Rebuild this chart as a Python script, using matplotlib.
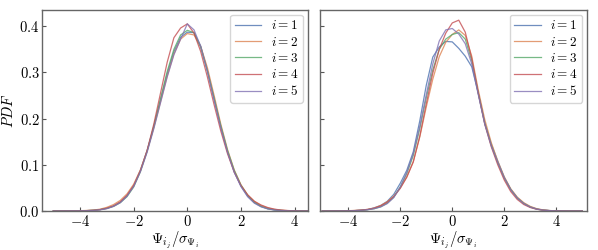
import numpy as np
import matplotlib
matplotlib.use("Agg")
import matplotlib.pyplot as plt
from matplotlib.ticker import FuncFormatter

# x grid shared by all curves (-5 ... 5, step 0.25)
x_grid = np.linspace(-5, 5, 41)

labels = ["$i=1$", "$i=2$", "$i=3$", "$i=4$", "$i=5$"]
colors = ["#4C72B0", "#DD8452", "#55A868", "#C44E52", "#8172B3"]

# left panel pdf values
left_1 = [0, 0, 0.0001, 0.0002, 0.0004, 0.0008, 0.0016, 0.003,
          0.006, 0.011, 0.019, 0.033, 0.055, 0.088, 0.131, 0.183, 0.240, 0.297, 0.345, 0.376,
          0.387, 0.386, 0.357, 0.304, 0.243, 0.182, 0.128, 0.085, 0.054, 0.032, 0.018, 0.010, 0.005,
          0.0025, 0.0012, 0.0005, 0.0002, 0.0001, 0, 0, 0]
left_2 = [0, 0.0001, 0.0002, 0.0004, 0.0007, 0.0012, 0.002, 0.004,
          0.008, 0.014, 0.023, 0.037, 0.058, 0.089, 0.130, 0.180, 0.236, 0.292, 0.340, 0.372,
          0.384, 0.381, 0.356, 0.310, 0.250, 0.188, 0.133, 0.089, 0.057, 0.035, 0.021, 0.012, 0.0065,
          0.0035, 0.0018, 0.0008, 0.0003, 0.0001, 0, 0, 0]
left_3 = [0, 0, 0.0001, 0.0002, 0.0004, 0.0008, 0.0015, 0.003,
          0.0055, 0.010, 0.018, 0.031, 0.052, 0.085, 0.129, 0.183, 0.243, 0.302, 0.350, 0.381,
          0.391, 0.386, 0.354, 0.303, 0.244, 0.184, 0.131, 0.088, 0.056, 0.034, 0.019, 0.010, 0.005,
          0.0025, 0.0012, 0.0005, 0.0002, 0.0001, 0, 0, 0]
left_4 = [0, 0, 0.0001, 0.0002, 0.0004, 0.0008, 0.0015, 0.003,
          0.006, 0.011, 0.020, 0.034, 0.055, 0.087, 0.131, 0.188, 0.255, 0.322, 0.375, 0.396,
          0.405, 0.385, 0.345, 0.290, 0.230, 0.173, 0.124, 0.084, 0.055, 0.035, 0.021, 0.013, 0.0075,
          0.004, 0.002, 0.001, 0.0004, 0.0002, 0.0001, 0, 0]
left_5 = [0, 0, 0.0001, 0.0002, 0.0003, 0.0006, 0.0012, 0.0025,
          0.005, 0.010, 0.018, 0.032, 0.053, 0.085, 0.127, 0.178, 0.234, 0.290, 0.338, 0.372,
          0.405, 0.392, 0.356, 0.302, 0.240, 0.180, 0.127, 0.084, 0.053, 0.031, 0.017, 0.009, 0.0045,
          0.002, 0.001, 0.0004, 0.0001, 0, 0, 0, 0]

# right panel pdf values
right_1 = [0, 0, 0.0001, 0.0002, 0.0004, 0.0008, 0.0015, 0.003,
           0.007, 0.012, 0.021, 0.036, 0.060, 0.088, 0.128, 0.195, 0.272, 0.333, 0.355, 0.367,
           0.366, 0.352, 0.335, 0.312, 0.255, 0.190, 0.145, 0.108, 0.073, 0.047, 0.029, 0.017, 0.009,
           0.0045, 0.002, 0.0009, 0.0004, 0.0001, 0, 0, 0]
right_2 = [0, 0.0001, 0.0002, 0.0004, 0.0007, 0.0012, 0.002, 0.0035,
           0.0065, 0.012, 0.020, 0.032, 0.050, 0.074, 0.107, 0.160, 0.225, 0.285, 0.334, 0.365,
           0.382, 0.392, 0.380, 0.335, 0.262, 0.198, 0.148, 0.108, 0.074, 0.048, 0.030, 0.018, 0.010,
           0.005, 0.0024, 0.001, 0.0004, 0.0001, 0, 0, 0]
right_3 = [0, 0, 0.0001, 0.0002, 0.0004, 0.0008, 0.0015, 0.003,
           0.005, 0.009, 0.017, 0.030, 0.052, 0.081, 0.120, 0.178, 0.245, 0.305, 0.350, 0.372,
           0.382, 0.386, 0.372, 0.325, 0.255, 0.190, 0.142, 0.104, 0.071, 0.046, 0.028, 0.016, 0.0085,
           0.004, 0.0018, 0.0008, 0.0003, 0.0001, 0, 0, 0]
right_4 = [0, 0, 0.0001, 0.0002, 0.0005, 0.001, 0.002, 0.0035,
           0.006, 0.011, 0.019, 0.031, 0.049, 0.073, 0.106, 0.162, 0.232, 0.298, 0.350, 0.385,
           0.407, 0.413, 0.387, 0.330, 0.255, 0.188, 0.139, 0.100, 0.067, 0.042, 0.025, 0.014, 0.0075,
           0.0037, 0.0017, 0.0007, 0.0003, 0.0001, 0, 0, 0]
right_5 = [0, 0, 0.0001, 0.0002, 0.0004, 0.0008, 0.0015, 0.0028,
           0.005, 0.009, 0.016, 0.029, 0.052, 0.083, 0.124, 0.183, 0.252, 0.318, 0.368, 0.392,
           0.395, 0.383, 0.362, 0.318, 0.252, 0.188, 0.141, 0.105, 0.072, 0.046, 0.028, 0.016, 0.0085,
           0.004, 0.0018, 0.0008, 0.0003, 0.0001, 0, 0, 0]

left_curves = [left_1, left_2, left_3, left_4, left_5]
right_curves = [right_1, right_2, right_3, right_4, right_5]

plt.rcParams['mathtext.fontset'] = 'cm'
plt.rcParams['font.family'] = 'serif'
plt.rcParams['font.size'] = 10

fig = plt.figure(figsize=(5.98, 2.5), dpi=100)
ax1 = fig.add_axes([0.0707, 0.156, 0.4438, 0.804])
ax2 = fig.add_axes([0.535, 0.156, 0.4465, 0.804], sharey=ax1)

fmt = FuncFormatter(lambda v, p: "$%g$" % v)

for ax, curves, xlim in [(ax1, left_curves, (-5.41, 4.49)), (ax2, right_curves, (-5.09, 5.18))]:
    for ys, c, lab in zip(curves, colors, labels):
        ax.plot(x_grid, ys, color=c, lw=0.9, alpha=0.8, label=lab)
    ax.set_xlim(*xlim)
    ax.set_xticks([-4, -2, 0, 2, 4])
    ax.xaxis.set_major_formatter(fmt)
    ax.tick_params(direction='in', length=3, width=0.8, color='#555555', labelsize=10.5, pad=2)
    for s in ax.spines.values():
        s.set_color('#666666')
        s.set_linewidth(1.0)
    ax.set_xlabel(r"$\Psi_{i_j}/\sigma_{\Psi_i}$", fontsize=10.5, labelpad=0)
    leg = ax.legend(loc='upper right', fontsize=9.5, frameon=True, fancybox=True,
                    handlelength=2.0, handletextpad=0.7, labelspacing=0.25,
                    borderpad=0.35, borderaxespad=0.35)
    leg.get_frame().set_edgecolor('#cccccc')

ax1.set_ylim(0, 0.435)
ax1.set_yticks([0, 0.1, 0.2, 0.3, 0.4])
ax1.yaxis.set_major_formatter(FuncFormatter(lambda v, p: "$%.1f$" % v))
ax1.set_ylabel("$PDF$", fontsize=10.5, labelpad=2)
plt.setp(ax2.get_yticklabels(), visible=False)

fig.savefig("out.png", dpi=100)
